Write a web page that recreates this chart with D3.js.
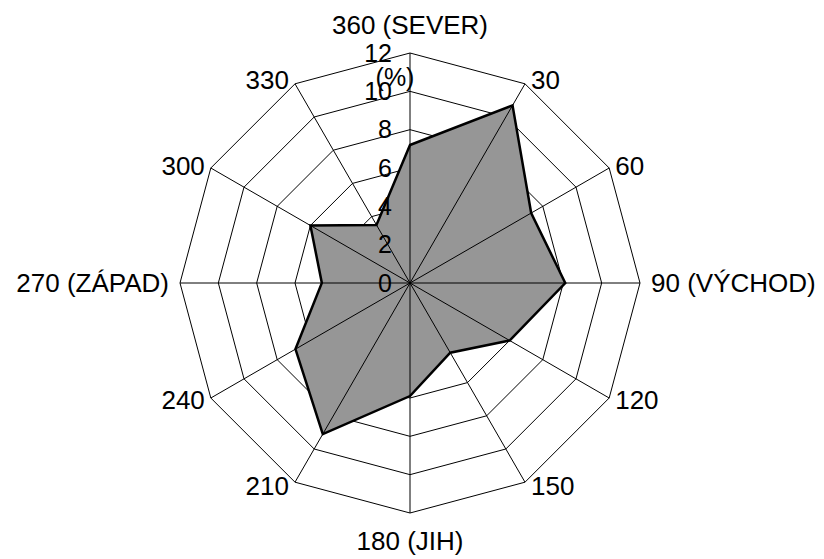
<!DOCTYPE html>
<html>
<head>
<meta charset="utf-8">
<script src="https://cdn.jsdelivr.net/npm/d3@7"></script>
<style>
  body { margin: 0; background: #fff; }
  svg { display: block; font-family: "Liberation Sans", Arial, sans-serif; }
</style>
</head>
<body>
<div id="chart"></div>
<script>
// wind directions (degrees) and their labels
const directions = [0, 30, 60, 90, 120, 150, 180, 210, 240, 270, 300, 330];
const dirLabels = ["360 (SEVER)", "30", "60", "90 (VÝCHOD)", "120", "150",
                   "180 (JIH)", "210", "240", "270 (ZÁPAD)", "300", "330"];
// frequency in %
const values = [7.2, 10.7, 7.3, 8.1, 6.0, 4.2, 5.9, 9.1, 6.9, 4.6, 6.0, 3.5];
const ticks = [0, 2, 4, 6, 8, 10, 12];

const width = 824, height = 559;
const cx = 410, cy = 283, R = 230;

const svg = d3.select("#chart").append("svg")
    .attr("width", width)
    .attr("height", height);

const rScale = d3.scaleLinear().domain([0, 12]).range([0, R]);
const ang = d => d * Math.PI / 180;

const g = svg.append("g").attr("transform", `translate(${cx},${cy})`);

// rings
const ringLine = d3.lineRadial().curve(d3.curveLinearClosed)
    .angle(d => ang(d));
ticks.filter(t => t > 0).forEach(t => {
    g.append("path")
        .datum(directions)
        .attr("d", ringLine.radius(rScale(t)))
        .attr("fill", "none")
        .attr("stroke", "#000")
        .attr("stroke-width", 1);
});

// data polygon
const area = d3.lineRadial().curve(d3.curveLinearClosed)
    .angle((d, i) => ang(directions[i]))
    .radius(d => rScale(d));
g.append("path")
    .datum(values)
    .attr("d", area)
    .attr("fill", "#969696")
    .attr("stroke", "none");

// spokes
g.selectAll("line.spoke")
    .data(directions)
    .enter().append("line")
    .attr("class", "spoke")
    .attr("x1", 0).attr("y1", 0)
    .attr("x2", d => Math.sin(ang(d)) * R)
    .attr("y2", d => -Math.cos(ang(d)) * R)
    .attr("stroke", "#000")
    .attr("stroke-width", 1);

g.append("path")
    .datum(values)
    .attr("d", area)
    .attr("fill", "none")
    .attr("stroke", "#000")
    .attr("stroke-width", 2.5)
    .attr("stroke-linejoin", "miter");

// tick labels along the north axis
g.selectAll("text.tick")
    .data(ticks)
    .enter().append("text")
    .attr("class", "tick")
    .attr("x", -18)
    .attr("y", d => -rScale(d))
    .attr("dy", "0.35em")
    .attr("text-anchor", "end")
    .attr("font-size", 25)
    .text(d => d);

g.append("text")
    .attr("x", -15)
    .attr("y", -rScale(12) + 24)
    .attr("dy", "0.35em")
    .attr("text-anchor", "middle")
    .attr("font-size", 25)
    .text("(%)");

// direction labels
g.selectAll("text.dir")
    .data(directions)
    .enter().append("text")
    .attr("class", "dir")
    .attr("font-size", 26)
    .attr("dy", "0.35em")
    .attr("text-anchor", d => {
        const s = Math.sin(ang(d));
        return Math.abs(s) < 0.01 ? "middle" : (s > 0 ? "start" : "end");
    })
    .attr("x", d => {
        const s = Math.sin(ang(d));
        if (Math.abs(s) < 0.01) return 0;
        const pad = Math.abs(s) > 0.99 ? 11 : 6;
        return s * R + Math.sign(s) * pad;
    })
    .attr("y", d => {
        const s = Math.sin(ang(d)), c = Math.cos(ang(d));
        if (Math.abs(s) < 0.01) return -c * (R + 28);
        return -c * R - c * 4;
    })
    .text((d, i) => dirLabels[i]);
</script>
</body>
</html>
